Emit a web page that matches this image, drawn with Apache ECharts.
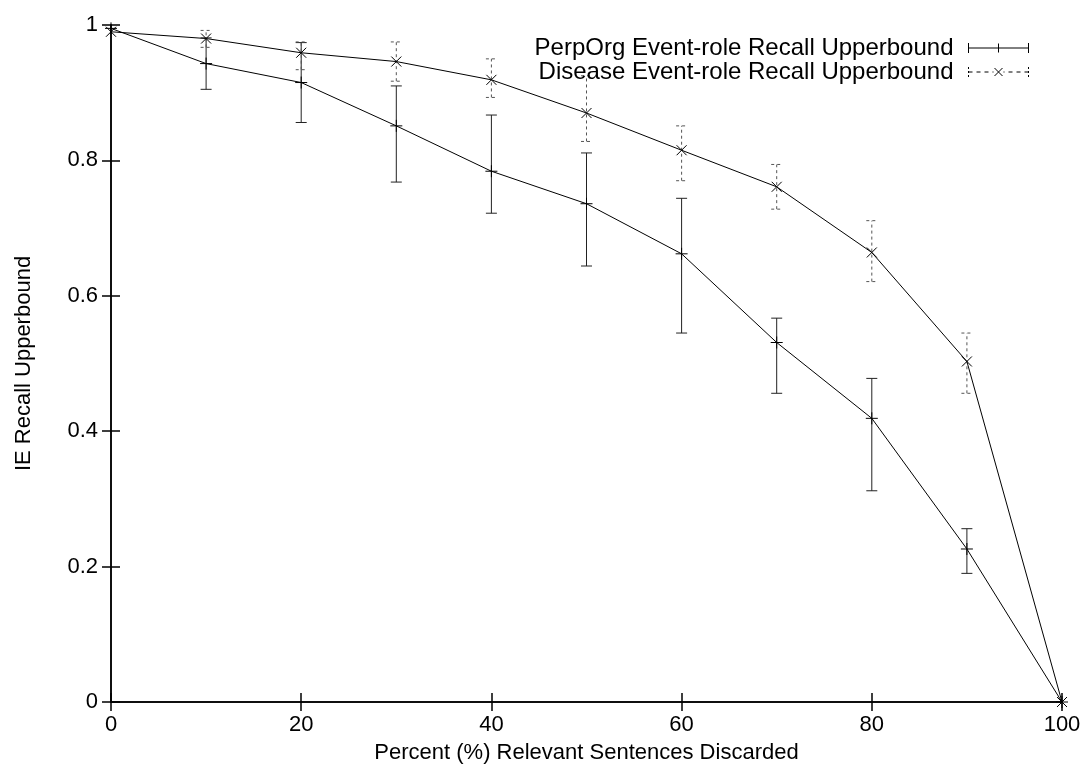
<!DOCTYPE html>
<html>
<head>
<meta charset="utf-8">
<script src="https://cdn.jsdelivr.net/npm/echarts@6/dist/echarts.min.js"></script>
<style>
  html, body { margin: 0; padding: 0; background: #fff; }
  #main { width: 1088px; height: 769px; }
</style>
</head>
<body>
<div id="main"></div>
<script>
    // percent of relevant sentences discarded
    var xs = [0, 10, 20, 30, 40, 50, 60, 70, 80, 90, 100];
    var xTicks = [0, 20, 40, 60, 80, 100];
    var yTicks = [0, 0.2, 0.4, 0.6, 0.8, 1];

    var perpName = 'PerpOrg Event-role Recall Upperbound';
    var perpVal  = [0.995, 0.943, 0.915, 0.851, 0.784, 0.736, 0.662, 0.531, 0.419, 0.226, 0];
    var perpLow  = [0.995, 0.905, 0.856, 0.768, 0.722, 0.644, 0.545, 0.456, 0.312, 0.190, 0];
    var perpHigh = [0.995, 0.981, 0.974, 0.910, 0.867, 0.811, 0.744, 0.567, 0.478, 0.256, 0];

    var disName = 'Disease Event-role Recall Upperbound';
    var disVal  = [0.990, 0.980, 0.959, 0.946, 0.919, 0.870, 0.815, 0.761, 0.664, 0.503, 0];
    var disLow  = [0.990, 0.967, 0.934, 0.917, 0.893, 0.828, 0.770, 0.728, 0.621, 0.456, 0];
    var disHigh = [0.990, 0.992, 0.975, 0.975, 0.950, 0.925, 0.851, 0.794, 0.711, 0.545, 0];

    var font = 'Liberation Sans, Arial, Helvetica, sans-serif';

    function pairs(ys) {
        return xs.map(function (x, i) { return [x, ys[i]]; });
    }
    function bars(lo, hi, val) {
        return xs.map(function (x, i) { return [x, lo[i], hi[i], val[i]]; });
    }

    // error bar + point marker, gnuplot style
    function errorBar(marker, dashed, barColor) {
        return function (params, api) {
            var x = api.value(0);
            var lo = api.coord([x, api.value(1)]);
            var hi = api.coord([x, api.value(2)]);
            var pt = api.coord([x, api.value(3)]);
            var w = 5.5;
            var barStyle = {stroke: barColor, lineWidth: 1, lineDash: dashed ? [3, 3] : null};
            var mStyle = {stroke: '#000', lineWidth: 1};
            var kids = [];
            if (Math.abs(hi[1] - lo[1]) > 0.5) {
                kids.push({type: 'line', shape: {x1: lo[0], y1: lo[1], x2: hi[0], y2: hi[1]}, style: barStyle});
                kids.push({type: 'line', shape: {x1: lo[0] - w, y1: lo[1], x2: lo[0] + w, y2: lo[1]}, style: barStyle});
                kids.push({type: 'line', shape: {x1: hi[0] - w, y1: hi[1], x2: hi[0] + w, y2: hi[1]}, style: barStyle});
            }
            if (marker === '+') {
                kids.push({type: 'line', shape: {x1: pt[0] - 6, y1: pt[1], x2: pt[0] + 6, y2: pt[1]}, style: mStyle});
                kids.push({type: 'line', shape: {x1: pt[0], y1: pt[1] - 6, x2: pt[0], y2: pt[1] + 6}, style: mStyle});
            } else {
                kids.push({type: 'line', shape: {x1: pt[0] - 5, y1: pt[1] - 5, x2: pt[0] + 5, y2: pt[1] + 5}, style: mStyle});
                kids.push({type: 'line', shape: {x1: pt[0] - 5, y1: pt[1] + 5, x2: pt[0] + 5, y2: pt[1] - 5}, style: mStyle});
            }
            return {type: 'group', children: kids};
        };
    }

    var perpIcon = 'path://M0,0L0,10M0,5L60,5M60,0L60,10M30,0.5L30,9.5';
    var disIcon = 'path://M0,0L0,2M0,4L0,6M0,8L0,10M0,5L4,5M8,5L12,5M16,5L20,5M24,5L25,5' +
        'M26,1L34,9M26,9L34,1M35,5L36,5M40,5L44,5M48,5L52,5M56,5L60,5' +
        'M60,0L60,2M60,4L60,6M60,8L60,10';

    var axisLine = {show: true, lineStyle: {color: '#000', width: 1.5}};
    var tick = {show: true, inside: true, length: 9, lineStyle: {color: '#000', width: 1.5}};
    var label = {color: '#000', fontSize: 22, fontFamily: font};

    var chart = echarts.init(document.getElementById('main'));
    var option = {
        backgroundColor: '#fff',
        animation: false,
        grid: {left: 111, right: 26, top: 25, bottom: 67},
        legend: {
            orient: 'vertical',
            right: 52,
            top: 31,
            align: 'right',
            itemGap: 0,
            itemWidth: 60,
            itemHeight: 10,
            selectedMode: false,
            textStyle: {color: '#000', fontSize: 24, lineHeight: 21, fontFamily: font, padding: [0, 10, 0, 0]},
            data: [
                {name: perpName, icon: perpIcon, itemStyle: {color: 'none', borderColor: '#000', borderWidth: 1}},
                {name: disName, icon: disIcon, itemStyle: {color: 'none', borderColor: '#000', borderWidth: 1}}
            ]
        },
        xAxis: [{
            type: 'value', position: 'bottom',
            min: xTicks[0], max: xTicks[xTicks.length - 1], interval: xTicks[1] - xTicks[0],
            name: 'Percent (%) Relevant Sentences Discarded',
            nameLocation: 'middle', nameGap: 40,
            nameTextStyle: {color: '#000', fontSize: 22, fontFamily: font},
            axisLine: axisLine, axisTick: tick,
            axisLabel: Object.assign({margin: 12}, label),
            splitLine: {show: false}
        }, {
            type: 'value', position: 'top',
            min: xTicks[0], max: xTicks[xTicks.length - 1], interval: xTicks[1] - xTicks[0],
            axisLine: axisLine, axisTick: tick,
            axisLabel: {show: false}, splitLine: {show: false}
        }],
        yAxis: [{
            type: 'value', position: 'left',
            min: yTicks[0], max: yTicks[yTicks.length - 1], interval: yTicks[1] - yTicks[0],
            name: 'IE Recall Upperbound',
            nameLocation: 'middle', nameGap: 76,
            nameTextStyle: {color: '#000', fontSize: 22, fontFamily: font},
            axisLine: axisLine, axisTick: tick,
            axisLabel: Object.assign({margin: 13}, label),
            splitLine: {show: false}
        }, {
            type: 'value', position: 'right',
            min: yTicks[0], max: yTicks[yTicks.length - 1], interval: yTicks[1] - yTicks[0],
            axisLine: axisLine, axisTick: tick,
            axisLabel: {show: false}, splitLine: {show: false}
        }],
        series: [
            {
                name: perpName, type: 'custom',
                renderItem: errorBar('+', false, '#222'),
                data: bars(perpLow, perpHigh, perpVal), z: 3
            },
            {
                name: disName, type: 'custom',
                renderItem: errorBar('x', true, '#555'),
                data: bars(disLow, disHigh, disVal), z: 3
            },
            {
                name: perpName, type: 'line', data: pairs(perpVal),
                showSymbol: false, symbol: 'none',
                lineStyle: {color: '#000', width: 1}, z: 2
            },
            {
                name: disName, type: 'line', data: pairs(disVal),
                showSymbol: false, symbol: 'none',
                lineStyle: {color: '#000', width: 1}, z: 2
            }
        ]
    };
    chart.setOption(option);
</script>
</body>
</html>
